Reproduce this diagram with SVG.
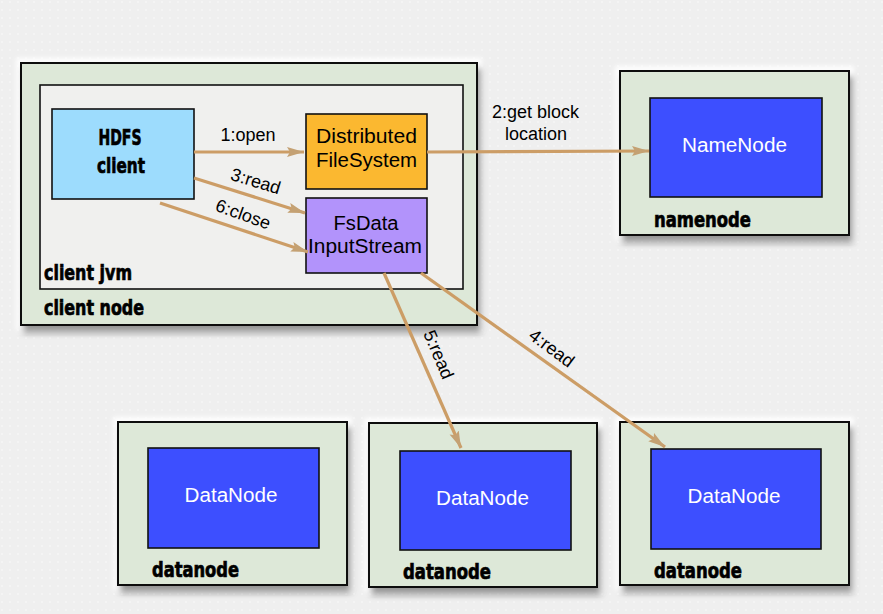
<svg xmlns="http://www.w3.org/2000/svg" width="883" height="614" viewBox="0 0 883 614">
<defs>
<pattern id="dots" width="8" height="8" patternUnits="userSpaceOnUse">
<rect width="8" height="8" fill="#efefef"/>
<circle cx="2" cy="2" r="0.8" fill="#fbfbfb"/>
</pattern>
<filter id="sh" x="-10%" y="-10%" width="125%" height="130%">
<feMorphology in="SourceAlpha" operator="dilate" radius="4" result="d"/>
<feGaussianBlur in="d" stdDeviation="2" result="db"/>
<feFlood flood-color="#ffffff" flood-opacity="0.9"/>
<feComposite in2="db" operator="in" result="glow"/>
<feGaussianBlur in="SourceAlpha" stdDeviation="3" result="b"/>
<feOffset in="b" dx="3" dy="6" result="ob"/>
<feFlood flood-color="#000000" flood-opacity="0.7"/>
<feComposite in2="ob" operator="in" result="shadow"/>
<feMerge><feMergeNode in="glow"/><feMergeNode in="shadow"/><feMergeNode in="SourceGraphic"/></feMerge>
</filter>
<marker id="ah" markerUnits="userSpaceOnUse" markerWidth="20" markerHeight="12" refX="17" refY="6" orient="auto">
<path d="M0,1 L17,6 L0,11 L3,6 z" fill="#c4a173"/>
</marker>
<style>
.outer{fill:#dde8d8;stroke:#111;stroke-width:2;filter:url(#sh)}
.inner{fill:#f0f0ee;stroke:#111;stroke-width:1.6}
.box{stroke:#111;stroke-width:1.6}
.blue{fill:#3d4fff;stroke:#111;stroke-width:1.6}
.bold{font-family:"Liberation Sans Narrow","DejaVu Sans Condensed","Liberation Sans",sans-serif;font-weight:bold;font-size:22px;fill:#000;stroke:#000;stroke-width:0.7}
.lbl{font-family:"Liberation Sans",Arial,sans-serif;font-size:20px;fill:#000}
.wlbl{font-family:"Liberation Sans",Arial,sans-serif;font-size:20px;fill:#fff;text-anchor:middle}
.edge{font-family:"Liberation Sans",Arial,sans-serif;font-size:18px;fill:#000}
.conn{stroke:#cc9d66;stroke-width:3.2;fill:none;marker-end:url(#ah)}
</style>
</defs>
<rect width="883" height="614" fill="url(#dots)"/>

<g id="client-node">
<rect class="outer" x="21" y="63" width="456" height="262"/>
<text class="bold" x="44" y="315" textLength="100" lengthAdjust="spacingAndGlyphs">client node</text>
</g>
<g id="client-jvm">
<rect class="inner" x="40" y="85" width="423" height="204"/>
<text class="bold" x="44" y="280" textLength="88" lengthAdjust="spacingAndGlyphs">client jvm</text>
</g>
<g id="hdfs-client">
<rect class="box" x="52" y="109" width="142" height="90" fill="#9ddcfd"/>
<text class="bold" x="120" y="145" text-anchor="middle" textLength="43" lengthAdjust="spacingAndGlyphs">HDFS</text>
<text class="bold" x="121" y="173" text-anchor="middle" textLength="48" lengthAdjust="spacingAndGlyphs">client</text>
</g>
<g id="distributed-fs">
<rect class="box" x="306" y="114" width="121" height="75" fill="#fbb830"/>
<text class="lbl" x="366.5" y="143" text-anchor="middle" textLength="101" lengthAdjust="spacingAndGlyphs">Distributed</text>
<text class="lbl" x="366.5" y="167" text-anchor="middle" textLength="101" lengthAdjust="spacingAndGlyphs">FileSystem</text>
</g>
<g id="fsdata-inputstream">
<rect class="box" x="306" y="198" width="121" height="75" fill="#b293fb"/>
<text class="lbl" x="366" y="230" text-anchor="middle" textLength="65" lengthAdjust="spacingAndGlyphs">FsData</text>
<text class="lbl" x="365" y="253" text-anchor="middle" textLength="114" lengthAdjust="spacingAndGlyphs">InputStream</text>
</g>

<g id="namenode">
<rect class="outer" x="620" y="71" width="229" height="164"/>
<rect class="blue" x="650" y="98" width="172" height="99"/>
<text class="wlbl" x="734.5" y="152" textLength="105" lengthAdjust="spacingAndGlyphs">NameNode</text>
<text class="bold" x="654" y="227" textLength="97" lengthAdjust="spacingAndGlyphs">namenode</text>
</g>

<g id="datanode1">
<rect class="outer" x="118" y="422" width="229" height="163"/>
<rect class="blue" x="148" y="448" width="171" height="100"/>
<text class="wlbl" x="231" y="502" textLength="93" lengthAdjust="spacingAndGlyphs">DataNode</text>
<text class="bold" x="152" y="577" textLength="87" lengthAdjust="spacingAndGlyphs">datanode</text>
</g>
<g id="datanode2">
<rect class="outer" x="369" y="423" width="228" height="164"/>
<rect class="blue" x="400" y="451" width="171" height="99"/>
<text class="wlbl" x="482.5" y="505" textLength="93" lengthAdjust="spacingAndGlyphs">DataNode</text>
<text class="bold" x="403" y="579" textLength="88" lengthAdjust="spacingAndGlyphs">datanode</text>
</g>
<g id="datanode3">
<rect class="outer" x="620" y="422" width="229" height="163"/>
<rect class="blue" x="651" y="449" width="170" height="100"/>
<text class="wlbl" x="734" y="503" textLength="93" lengthAdjust="spacingAndGlyphs">DataNode</text>
<text class="bold" x="654" y="578" textLength="88" lengthAdjust="spacingAndGlyphs">datanode</text>
</g>

<g id="connectors">
<line class="conn" x1="194" y1="152" x2="304" y2="152"/>
<line class="conn" x1="427" y1="152" x2="649" y2="151"/>
<line class="conn" x1="194" y1="178" x2="305" y2="213"/>
<line class="conn" x1="160" y1="203" x2="308" y2="252"/>
<line class="conn" x1="421" y1="273" x2="665" y2="447"/>
<line class="conn" x1="384" y1="273" x2="461" y2="448"/>
<text class="edge" x="248" y="141" text-anchor="middle">1:open</text>
<text class="edge" x="492" y="118">2:get block</text>
<text class="edge" x="505" y="140">location</text>
<text class="edge" text-anchor="middle" transform="translate(254,187) rotate(17)">3:read</text>
<text class="edge" text-anchor="middle" transform="translate(241,220) rotate(20)">6:close</text>
<text class="edge" text-anchor="middle" transform="translate(548,353) rotate(37)">4:read</text>
<text class="edge" text-anchor="middle" transform="translate(433,357) rotate(67)">5:read</text>
</g>
</svg>
